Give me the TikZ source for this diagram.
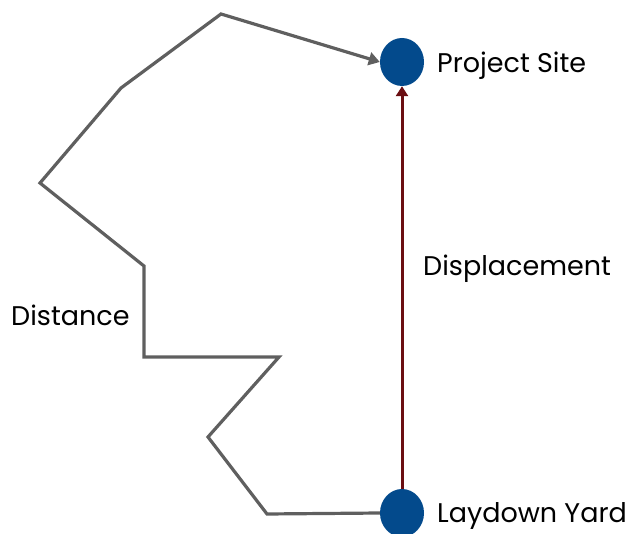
\documentclass[tikz,border=0pt]{standalone}
\usepackage{fontspec}
\setmainfont{Poppins}
\usetikzlibrary{arrows.meta,shapes.geometric}
\definecolor{dotblue}{HTML}{034A8C}
\definecolor{pathgray}{HTML}{5F5F5F}
\definecolor{dispred}{HTML}{6B0E12}
\tikzset{
  site/.style={ellipse, fill=dotblue, minimum width=44pt, minimum height=48pt, inner sep=0pt},
  lbl/.style={font=\fontsize{27}{32}\selectfont, text=black, inner sep=0pt},
  distpath/.style={draw=pathgray, line width=3.2pt, line join=miter, -{Triangle[length=11pt,width=13pt]}},
  disparrow/.style={draw=dispred, line width=3pt, -{Triangle[length=10pt,width=12pt]}}
}
\begin{document}
\begin{tikzpicture}[x=1pt,y=-1pt]
\useasboundingbox (0,0) rectangle (637,534);
\node[site] (ps) at (402,62) {};
\node[site] (ly) at (402,513) {};
\node[lbl, anchor=west] (psl) at (437,66) {Project Site};
\node[lbl, anchor=west] (lyl) at (437,516) {Laydown Yard};
\node[lbl, anchor=west] (dl) at (423,269) {Displacement};
\node[lbl, anchor=west] (dsl) at (11,315) {Distance};
\coordinate (p1) at (267,514);
\coordinate (p2) at (208,437);
\coordinate (p3) at (279,357);
\coordinate (p4) at (144,357);
\coordinate (p5) at (144,266);
\coordinate (p6) at (40,183);
\coordinate (p7) at (121,88);
\coordinate (p8) at (221,14);
\draw[distpath] (ly.west) -- (p1) -- (p2) -- (p3) -- (p4) -- (p5) -- (p6) -- (p7) -- (p8) -- (ps.west);
\draw[disparrow] (ly.north) -- (ps.south);
\end{tikzpicture}
\end{document}
